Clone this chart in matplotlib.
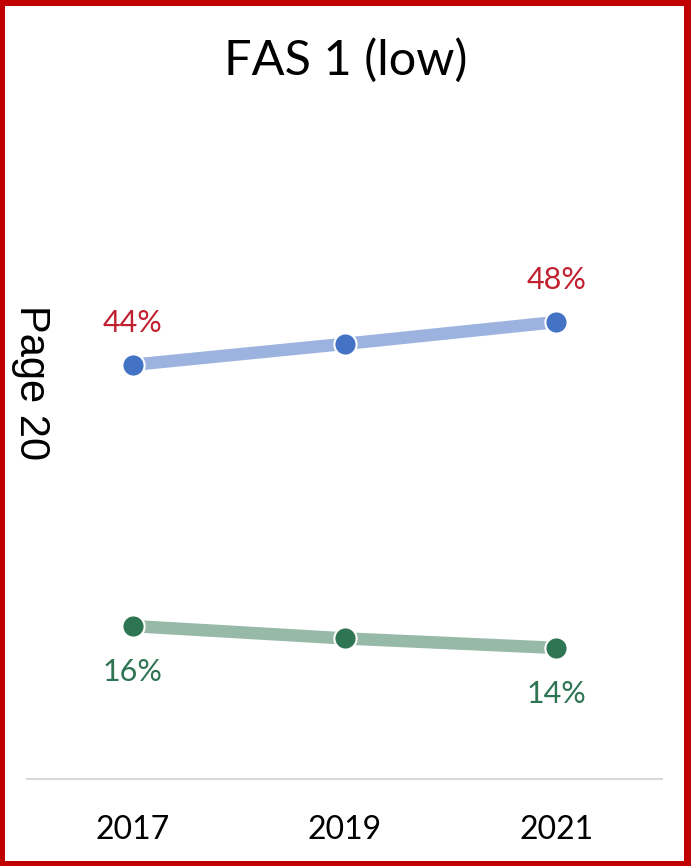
import matplotlib.pyplot as plt
from matplotlib.patches import Rectangle

years = ["2017", "2019", "2021"]
high_vals = [0.436, 0.458, 0.481]
low_vals = [0.161, 0.148, 0.138]
high_labels = ["44%", "", "48%"]
low_labels = ["16%", "", "14%"]

W, H = 691, 866
fig = plt.figure(figsize=(W / 100, H / 100), dpi=100, facecolor="#c00000")
# white inside the red frame
fig.patches.append(Rectangle((5 / W, 5 / H), (684 - 5) / W, (861 - 6) / H,
                             transform=fig.transFigure, fc="white", ec="none", zorder=-1))

ax = fig.add_axes([27 / W, 1 - 779 / H, (662 - 27) / W, 570 / H])
ax.set_facecolor("none")

x = range(len(years))
ax.plot(x, high_vals, color="#9db3df", lw=9, solid_capstyle="butt", zorder=1)
ax.plot(x, high_vals, "o", ms=16, mfc="#4472c4", mec="white", mew=1.5, zorder=2)
ax.plot(x, low_vals, color="#97b9a7", lw=9, solid_capstyle="butt", zorder=1)
ax.plot(x, low_vals, "o", ms=16, mfc="#2e7553", mec="white", mew=1.5, zorder=2)

for i, lab in enumerate(high_labels):
    if lab:
        ax.annotate(lab, (i, high_vals[i]), xytext=(0, 20), textcoords="offset points",
                    ha="center", va="bottom", fontsize=22, color="#c0202f", family="Lato")
for i, lab in enumerate(low_labels):
    if lab:
        ax.annotate(lab, (i, low_vals[i]), xytext=(0, -23), textcoords="offset points",
                    ha="center", va="top", fontsize=22, color="#2e7553", family="Lato")

ax.set_xlim(-0.5, 2.5)
ax.set_ylim(0, 0.6)
ax.set_xticks(list(x))
ax.set_xticklabels(years, fontsize=23, family="Lato")
ax.tick_params(axis="x", length=0, pad=26)
ax.set_yticks([])
for s in ["top", "left", "right"]:
    ax.spines[s].set_visible(False)
ax.spines["bottom"].set_color("#d9d9d9")
ax.spines["bottom"].set_linewidth(1.5)

fig.text(0.5, 1 - 60 / H, "FAS 1 (low)", ha="center", va="center", fontsize=35, family="Lato")
fig.text(31 / W, 1 - 383 / H, "Page 20", ha="center", va="center", rotation=-90,
         fontsize=30, family="Liberation Sans")

fig.savefig("out.png", dpi=100, facecolor=fig.get_facecolor())
